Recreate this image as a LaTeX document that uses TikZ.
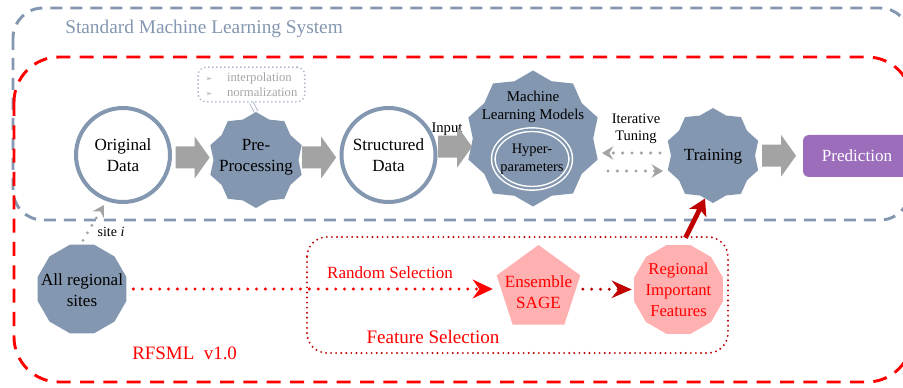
\documentclass[tikz,border=0pt]{standalone}
\usepackage{fontspec}
\setmainfont{Liberation Serif}
\newfontfamily\symfont{DejaVu Sans}
\usetikzlibrary{shapes.geometric,arrows.meta,calc}
\definecolor{bluegray}{HTML}{8497B0}
\definecolor{lightbg}{HTML}{A3B0C6}
\definecolor{arrowgray}{HTML}{A3A3A3}
\definecolor{lighttext}{HTML}{A6A6A6}
\definecolor{predpurple}{HTML}{9B6DBB}
\definecolor{pinkfill}{HTML}{FFB0B0}
\definecolor{darkred}{HTML}{C00000}
\definecolor{pureRed}{HTML}{FF0000}
\tikzset{
  graydash/.style={draw=bluegray, line width=2.2pt, dash pattern=on 9pt off 6pt, rounded corners=22.5pt},
  reddash/.style={draw=pureRed, line width=2.2pt, dash pattern=on 10.5pt off 7pt, rounded corners=33.75pt},
  datacircle/.style={circle, draw=bluegray, line width=3pt, fill=white, minimum size=70.5pt, inner sep=0pt, align=center},
  sealstar/.style={star, star points=10, star point ratio=1.13, fill=bluegray, inner sep=0pt},
  txt/.style={align=center, inner sep=0pt},
  blockarr/.pic={\fill[arrowgray] (-17,-11) -- (2,-11) -- (2,-21) -- (17,0) -- (2,21) -- (2,11) -- (-17,11) -- cycle;},
  graydots/.style={draw=arrowgray, line width=2.6pt, dash pattern=on 0pt off 7pt, line cap=round,
     -{Stealth[length=8.5pt,width=10pt,inset=3pt,line cap=butt]}},
  reddots/.style={draw=pureRed, line width=2.5pt, dash pattern=on 0pt off 6.6pt, line cap=round,
     -{Stealth[length=15pt,width=14pt,inset=5pt,line cap=butt]}},
  darkreddots/.style={draw=darkred, line width=2.5pt, dash pattern=on 0pt off 6.6pt, line cap=round,
     -{Stealth[length=15pt,width=13pt,inset=5pt,line cap=butt]}},
  bigred/.style={draw=darkred, line width=3.6pt, -{Stealth[length=12pt,width=14pt,inset=3pt]}},
  fsrect/.style={draw=darkred, line width=1.6pt, dash pattern=on 0pt off 3.8pt, line cap=round, rounded corners=15pt},
  polyA/.style={regular polygon, regular polygon sides=12, inner sep=0pt, minimum size=69pt},
}
\begin{document}
\begin{tikzpicture}[x=0.75pt,y=-0.75pt, font=\fontsize{12.8}{15.5}\selectfont]
\useasboundingbox (0,0) rectangle (903,388);
\fill[white] (0,0) rectangle (903,388);

% containers
\draw[graydash] (13,8) rectangle (910,220);
\node[anchor=west, text=bluegray, font=\fontsize{14.5}{17}\selectfont, inner sep=0pt] (smlsTitle) at (65,29) {Standard Machine Learning System};
\draw[reddash] (14,57) rectangle (912,382);
\draw[fsrect] (307,237) rectangle (728,353);

% top row
\node[datacircle] (orig) at (123,155) {Original\\Data};
\node[sealstar, minimum size=72pt] (pre) at (256,160) {};
\node[txt] (preT) at (256,157) {Pre-\\Processing};
\node[datacircle] (struct) at (388.5,155) {Structured\\Data};
\node[sealstar, minimum size=102pt] (ml) at (533,138.5) {};
\node[txt, font=\fontsize{11.2}{13.5}\selectfont] (mlT) at (533,107) {Machine\\Learning Models};
\node[ellipse, draw=white, line width=1.1pt, double=bluegray, double distance=1.6pt, minimum width=58pt, minimum height=44pt, inner sep=0pt] (hyp) at (532,159) {};
\node[txt, font=\fontsize{10.8}{13.5}\selectfont] (hypT) at (532,159) {Hyper-\\parameters};
\node[sealstar, minimum size=71.25pt] (train) at (713,155.5) {};
\node[txt] (trainT) at (713,157) {Training};
\node[fill=predpurple, rounded corners=4.5pt, minimum width=81pt, minimum height=31.5pt, inner sep=0pt, text=white] (pred) at (857,156) {Prediction};

\node[txt, font=\fontsize{11}{13}\selectfont] (inputT) at (447,129) {Input};
\node[txt, font=\fontsize{10.9}{13}\selectfont] (iterT) at (636,129) {Iterative\\Tuning};

% preprocessing details
\node[draw=lightbg, line width=1.4pt, dash pattern=on 0pt off 3pt, line cap=round, rounded corners=6pt,
      minimum width=80pt, minimum height=26pt, inner sep=0pt, align=left, text=lighttext,
      font=\fontsize{9.5}{11.25}\selectfont] (interp) at (251.5,84.5)
  {{\symfont\fontsize{6}{7}\selectfont ➢}\hspace{11pt}interpolation\\{\symfont\fontsize{6}{7}\selectfont ➢}\hspace{11pt}normalization};
\draw[draw=lightbg, line width=0.6pt, double=white, double distance=2.2pt] (interp.south) -- (pre.north);

% block arrows
\pic at ($(orig.east)!0.5!(pre.west)$) {blockarr};
\pic at ($(pre.east)!0.5!(struct.west)$) {blockarr};
\pic at ($(struct.east)!0.5!(ml.west)$) {blockarr};
\pic at ($(train.east)!0.5!(pred.west)$) {blockarr};

% iterative tuning arrows
\coordinate (itA) at (660,153);
\coordinate (itB) at (602,153);
\coordinate (itC) at (608,171);
\coordinate (itD) at (663,171);
\draw[graydots] (itA) -- (itB);
\draw[graydots] (itC) -- (itD);

% bottom row
\node[polyA, fill=bluegray] (sites) at (82,289) {};
\node[txt] (sitesT) at (82,290) {All regional\\sites};
\draw[graydots, dash pattern=on 0pt off 6.5pt, line width=2.3pt] ($(sites.north)+(1,-4)$) -- ($(orig.center)+(-19,50)$);
\node[txt, font=\fontsize{10.5}{12}\selectfont] (siteT) at (111,232) {site \textit{i}};

\node[regular polygon, regular polygon sides=5, fill=pinkfill, inner sep=0pt, minimum size=66pt] (sage) at (538.5,289) {};
\node[txt, text=pureRed] (sageT) at (538.5,292) {Ensemble\\SAGE};
\node[polyA, fill=pinkfill] (rif) at (678.5,289.5) {};
\node[txt, text=pureRed, font=\fontsize{12.5}{15.75}\selectfont] (rifT) at (678.5,290) {Regional\\Important\\Features};

\draw[reddots, shorten <=5pt, shorten >=6pt] (sites.east) -- (sage.west);
\node[txt, text=pureRed] (randT) at (390,273) {Random Selection};
\node[txt, text=pureRed, font=\fontsize{14.3}{17}\selectfont] (fsT) at (433,337) {Feature Selection};
\draw[darkreddots, shorten <=5pt, shorten >=1.5pt] (sage.east) -- (rif.west);
\draw[bigred] ($(rif.north)+(7,-7)$) -- ($(train.center)+(-8,43)$);

\node[anchor=west, inner sep=0pt, text=pureRed, font=\fontsize{14.2}{17}\selectfont] (verT) at (132,353) {RFSML~~v1.0};
\end{tikzpicture}
\end{document}
